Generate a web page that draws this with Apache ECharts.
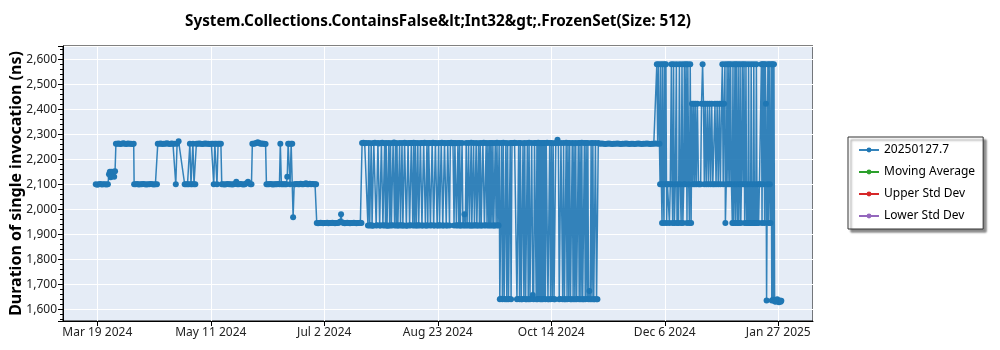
<!DOCTYPE html>
<html><head><meta charset="utf-8">
<script src="https://cdn.jsdelivr.net/npm/echarts@6/dist/echarts.min.js"></script>
<style>html,body{margin:0;padding:0;background:#fff}#c{width:1000px;height:350px}</style>
</head><body><div id="c"></div>
<script>
// x values: days since Mar 19 2024, y values: duration in ns
const xTickLabels = ['Mar 19 2024','May 11 2024','Jul 2 2024','Aug 23 2024','Oct 14 2024','Dec 6 2024','Jan 27 2025'];
const xTickStep = 314 / 6;
const legendNames = ['20250127.7','Moving Average','Upper Std Dev','Lower Std Dev'];
const legendColors = ['#1f77b4','#2ca02c','#d62728','#9467bd'];

const springRuns = [[-0.7,2100],[0,2098],[0.7,2100],[1.4,2101],[2.1,2099],[2.8,2100],[3.5,2100],[4.2,2099],[4.9,2100],
[5.4,2140],[5.8,2150],[6.2,2128],[6.6,2150],[7.0,2135],[7.4,2150],[7.8,2130],[8.2,2152],
[8.6,2262],[9.2,2262],[9.9,2263],[10.6,2261],[11.3,2262],[12.0,2264],[12.7,2262],[13.4,2261],[14.1,2263],[14.8,2262],[15.5,2262],[16.2,2261],[16.8,2262],
[17.0,2100],[17.7,2100],[18.4,2101],[19.1,2099],[19.8,2100],[20.5,2100],[21.2,2101],[21.9,2100],[22.6,2099],[23.3,2100],[24.0,2100],[24.7,2101],[25.4,2100],[26.1,2099],[26.8,2100],[27.5,2100],
[27.9,2262],[28.6,2262],[29.3,2263],[30.0,2261],[30.7,2262],[31.4,2262],[32.1,2264],[32.8,2262],[33.5,2261],[34.2,2263],[34.9,2262],[35.6,2262],
[36.2,2100],[36.8,2262],[37.5,2272],[40.3,2100],
[40.9,2100],[41.6,2100],[42.2,2100],[42.7,2262],[43.2,2100],[43.7,2100],[44.1,2262],[44.6,2100],[45.2,2100],[45.7,2262],
[46.3,2262],[47.0,2263],[47.7,2262],[48.4,2261],[49.1,2262],[49.8,2263],[50.5,2262],[51.2,2262],[51.9,2261],[52.6,2262],[53.3,2262],[53.7,2100],[54.2,2262],[54.8,2262],[55.2,2100],[55.7,2262],[56.3,2262],[57.0,2262],
[57.4,2100],[58.0,2100],[58.7,2099],[59.4,2100],[60.1,2101],[60.8,2100],[61.5,2100],[62.2,2099],[62.9,2100],[63.6,2102],[64.1,2110],[64.6,2100],[65.3,2100],[66.0,2101],[66.7,2100],[67.4,2099],[68.1,2100],[68.8,2104],[69.5,2110],[70.0,2104],[70.6,2100],[71.1,2100],
[71.5,2262],[72.1,2262],[72.7,2263],[73.3,2265],[74.0,2268],[74.6,2265],[75.2,2262],[75.8,2263],[76.4,2262],[77.0,2262],[77.6,2261],
[78.0,2100],[78.6,2100],[79.2,2100],[79.8,2101],[80.4,2100],[81.0,2099],[81.6,2100],[82.2,2100],[82.8,2100],[83.4,2101],[84.0,2100],[84.4,2262],[84.9,2100],[85.5,2100],[86.1,2100],[86.7,2100],[87.2,2100],[87.6,2130],[88.0,2262],[88.5,2262],[88.9,2100],[89.4,2262],[89.9,2262],[90.3,1968],[90.8,2100],
[91.4,2100],[92.0,2101],[92.6,2100],[93.2,2100],[93.8,2102],[94.4,2100],[95.0,2100],[95.6,2101],[96.2,2104],[96.8,2100],[97.4,2100],[98.0,2102],[98.6,2100],[99.2,2101],[99.8,2100],[100.4,2100],[100.9,2100]];

const summerPlateau = [[101.2,1945],[101.8,1944],[102.4,1945],[103.0,1946],[103.6,1945],[104.2,1944],[104.8,1945],[105.4,1945],[106.0,1946],[106.6,1944],[107.2,1945],[107.8,1945],[108.4,1946],[109.0,1945],[109.6,1944],[110.2,1945],[110.8,1945],[111.4,1946],[111.9,1950],[112.4,1980],[112.9,1948],[113.5,1945],[114.1,1944],[114.7,1945],[115.3,1946],[115.9,1945],[116.5,1944],[117.1,1945],[117.7,1945],[118.3,1946],[118.9,1945],[119.5,1944],[120.1,1945],[120.7,1945],[121.3,1946],[121.8,1945]];

const bimodalRuns = [[122.1,2265],[122.7,2266],[123.3,2264],[124.0,2265],[124.8,1935],[125.2,2265],[125.6,1935],[126.0,1936],[126.3,2264],[126.7,1935],[127.1,1934],[127.5,2265],[128.0,2266],[128.6,1935],[129.0,1936],[129.4,2265],[129.8,2263],[130.2,1935],[130.6,1935],[131.0,2265],[131.4,2266],[131.7,1936],[132.1,1935],[132.5,2264],[132.9,1935],[133.2,2265],[133.6,1935],[134.0,1934],[134.4,2265],[134.8,1935],[135.2,2264],[135.6,1935],[136.0,1936],[136.4,2265],[136.8,2267],[137.1,1935],[137.5,2265],[137.9,1935],[138.2,2264],[138.6,1935],[139.0,1935],[139.4,2265],[139.8,1936],[140.2,1935],[140.5,2265],[140.9,1935],[141.3,1935],[141.7,2266],[142.1,2265],[142.5,1934],[142.9,1935],[143.3,2264],[143.7,2265],[144.0,1935],[144.4,1936],[144.8,2265],[145.1,2265],[145.5,1935],[145.9,2266],[146.3,1935],[146.7,2265],[147.1,1935],[147.5,1935],[147.8,2265],[148.2,1936],[148.6,1935],[149.0,2264],[149.4,2265],[149.7,1935],[150.1,1935],[150.5,2265],[150.9,2266],[151.3,1935],[151.7,1935],[152.0,2265],[152.4,1935],[152.8,2264],[153.2,2265],[153.6,1935],[154.0,1936],[154.4,2265],[154.8,2266],[155.1,1935],[155.5,1935],[155.9,2265],[156.3,2264],[156.7,1935],[157.1,1935],[157.4,2265],[157.8,1936],[158.2,1935],[158.6,2265],[158.9,2266],[159.3,1935],[159.7,1935],[160.1,2265],[160.5,2264],[160.9,1935],[161.3,1935],[161.6,2265],[162.0,2265],[162.4,1935],[162.8,2265],[163.2,2266],[163.6,2264],[164.0,2265],[164.5,1935],[164.9,2265],[165.3,2264],[165.6,1935],[165.9,1936],[166.3,2265],[166.7,1935],[167.1,2265],[167.4,1935],[167.8,1935],[168.2,2265],[168.6,1936],[169.0,1935],[169.3,1980],[169.7,1935],[170.1,2265],[170.5,1935],[170.8,1936],[171.2,2265],[171.6,1935],[172.0,1935],[172.4,2266],[172.7,1935],[173.1,1935],[173.5,2265],[173.9,1935],[174.3,1936],[174.7,2265],[175.0,1935],[175.4,1935],[175.8,2264],[176.2,1935],[176.6,2265],[177.0,1935],[177.4,1935],[177.8,2265],[178.2,2266],[178.5,1935],[178.9,1936],[179.3,2265],[179.7,1935],[180.1,2264],[180.5,1935],[180.9,2265],[181.2,1935],[181.6,2265],[182.0,1935],[182.4,2265],[182.8,1935],[183.1,1935],[183.5,2265],[183.9,1935],[184.3,2266],[184.7,1936],[185.0,1935]];

const deepDropRuns = [[185.3,2265],[185.6,1640],[186.0,1642],[186.4,2265],[186.8,1640],[187.2,2266],[187.6,1641],[188.0,1640],[188.4,2265],[188.8,1640],[189.2,2264],[189.6,1640],[190.0,1641],[190.4,2265],[190.8,1640],[191.2,2265],[191.8,2265],[192.4,2266],[193.0,2265],[193.5,1640],[193.9,1641],[194.3,2265],[194.7,1640],[195.1,2265],[195.5,1640],[195.9,1640],[196.3,2264],[196.7,1641],[197.1,2265],[197.5,1640],[197.9,1640],[198.3,2265],[198.7,1640],[199.1,2266],[199.5,1640],[199.9,1641],[200.3,2265],[200.8,1657],[201.2,1640],[201.6,2265],[202.0,2265],[202.4,1640],[202.7,2265],[203.0,1640],[203.3,2266],[203.6,1641],[203.9,2265],[204.2,1640],[204.5,2264],[204.8,1640],[205.1,2265],[205.4,1640],[205.7,2265],[206.0,1641],[206.3,2265],[206.6,1640],[207.0,2265],[207.4,2266],[207.8,1640],[208.2,1640],[208.6,2265],[209.0,1640],[209.4,2265],[209.8,1641],[210.2,2264],[210.6,1640],[211.0,1640],[211.4,2265],[211.8,2266],[212.2,2278],[212.6,2265],[213.0,1640],[213.4,1641],[213.8,2265],[214.6,1640],[215.0,2265],[215.4,1640],[215.8,1640],[216.2,2266],[216.6,1640],[217.0,2265],[217.4,1641],[217.8,2265],[218.2,1640],[218.6,1640],[219.0,2265],[219.4,1640],[219.8,2264],[220.2,1640],[220.6,2265],[221.0,1640],[221.4,1641],[221.8,2265],[222.2,1640],[222.6,2265],[223.0,1640],[223.4,2266],[223.8,1640],[224.2,1640],[224.6,2265],[225.0,1640],[225.4,2265],[225.8,1641],[226.2,2265],[226.5,1640],[226.9,1673],[227.3,1640],[227.7,2265],[228.1,1640],[228.5,2265],[228.9,1640],[229.3,1640],[229.7,2265],[230.2,1640],[230.6,1640],[231.0,2265]];

const lateAutumnFlat = [[231.8,2262],[232.6,2263],[233.4,2262],[234.2,2261],[235.0,2262],[235.8,2263],[236.6,2262],[237.4,2261],[238.2,2262],[239.0,2262],[239.8,2263],[240.6,2262],[241.4,2261],[242.2,2262],[243.0,2262],[243.8,2263],[244.6,2262],[245.4,2261],[246.2,2262],[247.0,2262],[247.8,2261],[248.6,2262],[249.4,2263],[250.2,2262],[251.0,2261],[251.8,2262],[252.6,2262],[253.4,2263],[254.2,2262],[255.0,2261],[255.8,2262],[256.6,2262],[257.4,2263]];

const winterRuns = [[258.0,2580],[258.4,2262],[258.8,2580],[259.2,2262],[259.5,2100],[259.8,2580],[260.1,2100],[260.4,1945],[260.7,2580],[261.0,2100],[261.3,1945],[261.6,2580],[261.9,2100],[262.2,2580],[262.5,1945],[262.9,2100],[263.3,2100],[263.8,1945],[264.2,2100],[264.7,2580],[265.0,2100],[265.3,1945],[265.7,2580],[266.1,1945],[266.5,2100],[267.0,2580],[267.3,1945],[267.6,2100],[268.0,1945],[268.4,2580],[268.8,2100],[269.2,1945],[269.6,2580],[270.0,1945],[270.4,2100],[270.7,2580],[271.1,2100],[271.5,2580],[271.9,1945],[272.3,2580],[272.7,2100],[273.0,1945],[273.4,2580],[273.8,1945],[274.2,2422],[274.6,2100],[275.0,2422],[275.4,2100],[275.8,2422],[276.2,2100],[276.7,2422],[277.2,2100],[277.7,2100],[278.2,2100],[278.6,2422],[279.1,2580],[279.5,2422],[279.9,2100],[280.3,2422],[280.8,2100],[281.3,2422],[281.8,2100],[282.3,2422],[282.8,2100],[283.3,2422],[283.8,2100],[284.4,2100],[284.8,2422],[285.3,2100],[285.8,2422],[286.3,2100],[286.8,2422],[287.3,2100],[287.8,2422],[288.2,2580],[288.6,2100],[289.0,2422],[289.4,2580],[289.6,1945],[290.0,2100],[290.4,2580],[290.8,2100],[291.2,2580],[291.6,2100],[292.0,2580],[292.4,2100],[292.8,1945],[293.1,2580],[293.4,1945],[293.7,2100],[294.0,2580],[294.3,1945],[294.6,2580],[294.9,2100],[295.2,1945],[295.5,2580],[295.8,1945],[296.1,2100],[296.4,2580],[296.7,1945],[297.0,2100],[297.4,2580],[297.8,2100],[298.2,2580],[298.5,1945],[298.8,2100],[299.1,2580],[299.4,1945],[299.7,2100],[300.0,1945],[300.3,2580],[300.6,1945],[300.9,2100],[301.2,1945],[301.5,2580],[301.8,1945],[302.1,2100],[302.4,1945],[302.7,2580],[303.0,1945],[303.3,2100],[303.6,1945],[303.9,2580],[304.2,1945],[304.5,2100],[304.9,1945],[305.3,2100],[305.7,2100],[306.2,2580],[306.5,1945],[306.8,2580],[307.1,2100],[307.4,2580],[307.7,1945],[308.0,2580],[308.3,2422],[308.6,1635],[308.9,2100],[309.2,2580],[309.5,1945],[309.8,2580],[310.1,2100],[310.4,1945],[310.7,2580],[311.0,1635],[311.3,2580],[311.6,1638],[312.0,2580],[312.3,1632],[312.7,1630],[313.1,1636],[313.5,1640],[313.9,1632],[314.3,1628],[314.7,1635],[315.1,1630],[315.4,1634]];

const samples = springRuns.concat(summerPlateau, bimodalRuns, deepDropRuns, lateAutumnFlat, winterRuns);

const FONT = 'Noto Sans';
const chart = echarts.init(document.getElementById('c'), null, {renderer: 'canvas'});
const series = [{
  name: legendNames[0], type: 'line', data: samples, color: legendColors[0],
  symbol: 'circle', symbolSize: 6, showSymbol: true,
  itemStyle: {color: legendColors[0]},
  lineStyle: {width: 1.5, color: legendColors[0], opacity: 0.9},
  emphasis: {disabled: true}
}];
for (let i = 1; i < legendNames.length; i++) {
  series.push({name: legendNames[i], type: 'line', data: [], color: legendColors[i], symbol: 'circle', symbolSize: 6,
    itemStyle: {color: legendColors[i]}, lineStyle: {width: 1.2, color: legendColors[i]}});
}
chart.setOption({
  animation: false,
  backgroundColor: '#ffffff',
  title: {
    text: 'System.Collections.ContainsFalse&lt;Int32&gt;.FrozenSet(Size: 512)',
    left: 433, top: 9, textAlign: 'center',
    textStyle: {fontFamily: FONT, fontSize: 15.3, fontWeight: 'bold', color: '#000'}
  },
  grid: {left: 63, right: 187, top: 46, bottom: 29, outerBoundsMode: 'none', containLabel: false,
    show: true, backgroundColor: '#E5ECF6', borderColor: '#000', borderWidth: 1},
  legend: {
    orient: 'vertical', left: 848, top: 137, data: legendNames,
    itemWidth: 20, itemHeight: 6, itemGap: 8, padding: [6, 8, 6, 10],
    backgroundColor: '#fff', borderColor: '#333', borderWidth: 1,
    shadowColor: 'rgba(0,0,0,0.45)', shadowBlur: 2, shadowOffsetX: 3, shadowOffsetY: 3,
    selectedMode: false,
    textStyle: {fontFamily: FONT, fontSize: 12, lineHeight: 14, color: '#000'}
  },
  xAxis: {
    type: 'value', min: -15.8, max: 330, splitNumber: 6, minInterval: xTickStep, maxInterval: xTickStep,
    axisLine: {show: true, onZero: false, lineStyle: {color: '#000'}},
    axisTick: {show: true, length: 5, lineStyle: {color: '#000'}},
    axisLabel: {
      showMinLabel: false, showMaxLabel: false, margin: 6, fontFamily: FONT, fontSize: 12, color: '#222',
      formatter: v => { const k = Math.round(v / xTickStep); return (Math.abs(v - k * xTickStep) < 1e-3 && k >= 0 && k < xTickLabels.length) ? xTickLabels[k] : ''; }
    },
    splitLine: {show: true, lineStyle: {color: '#fff', width: 1}}
  },
  yAxis: {
    type: 'value', min: 1553, max: 2653, splitNumber: 10, minInterval: 100, maxInterval: 100,
    name: 'Duration of single invocation (ns)', nameLocation: 'middle', nameGap: 39, nameMoveOverlap: false,
    nameTextStyle: {fontFamily: FONT, fontSize: 16, fontWeight: 'bold', color: '#000'},
    axisLine: {show: true, onZero: false, lineStyle: {color: '#000'}},
    axisTick: {show: true, length: 5, lineStyle: {color: '#000'}},
    minorTick: {show: true, splitNumber: 5, length: 3, lineStyle: {color: '#000'}},
    axisLabel: {showMinLabel: false, showMaxLabel: false, margin: 6, fontFamily: FONT, fontSize: 12, color: '#222',
      formatter: v => v.toLocaleString('en-US')},
    splitLine: {show: true, lineStyle: {color: '#fff', width: 1}}
  },
  series: series
});
</script></body></html>
